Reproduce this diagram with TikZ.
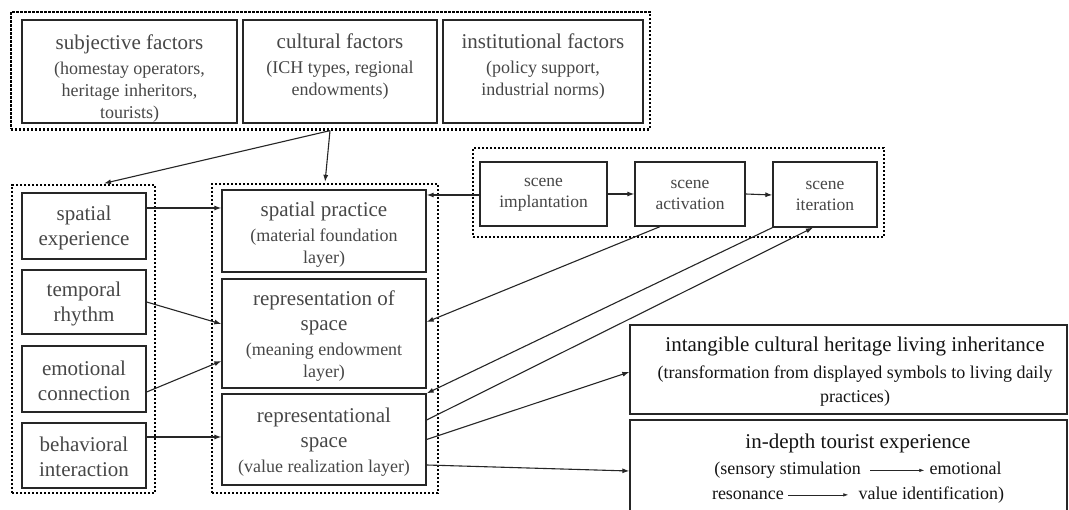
\documentclass[tikz,border=0pt]{standalone}
\usepackage{fontspec}
\setmainfont{Liberation Serif}
\usetikzlibrary{arrows.meta,calc}
\newcommand\ttl[1]{{\fontsize{21}{25}\selectfont #1}}
\newcommand\txtarrow[1]{\tikz[baseline=-4.5pt]\draw[-{Latex[length=5pt,width=3.5pt]},line width=0.6pt,draw=black!85] (0pt,0pt) -- (#1,0pt);}
\tikzset{
  box/.style={draw=black!85, line width=1.3pt, rectangle, inner sep=0pt},
  txt/.style={inner sep=0pt, align=center, text=black!72, font=\fontsize{18}{22}\selectfont},
  darktxt/.style={txt, text=black!92, font=\fontsize{18}{24.5}\selectfont},
  scenetxt/.style={txt, font=\fontsize{17.5}{21}\selectfont},
  grp/.style={draw=black, line width=2.3pt, dash pattern=on 2.1pt off 1.9pt, rectangle, inner sep=0pt},
  arr/.style={-{Latex[length=7pt,width=5pt]}, line width=1.1pt, draw=black!85}
}
\begin{document}
\begin{tikzpicture}[x=1pt,y=-1pt]
\useasboundingbox (0,0) rectangle (1069,510);
\clip (0,0) rectangle (1069,510);
\fill[white] (0,0) rectangle (1069,510);
% group frames
\node[grp, minimum width=639pt, minimum height=117.5pt] (topgrp) at (330.5,70.75) {};
\node[grp, minimum width=143pt, minimum height=308pt] (leftgrp) at (83.5,339) {};
\node[grp, minimum width=226pt, minimum height=309pt] (midgrp) at (325,338.5) {};
\node[grp, minimum width=411pt, minimum height=89pt] (scenegrp) at (678.5,192.5) {};
% top factors
\node[box, minimum width=215pt, minimum height=103pt] (subj) at (129.5,71.5) {};
\node[txt] (subjT) at (129.5,78.5) {\ttl{subjective factors}\\[3pt](homestay operators,\\heritage inheritors,\\tourists)};
\node[box, minimum width=194pt, minimum height=103pt] (cult) at (340,71.5) {};
\node[txt] (cultT) at (340,78.5) {\ttl{cultural factors}\\[3pt](ICH types, regional\\endowments)\\\strut};
\node[box, minimum width=200pt, minimum height=103pt] (inst) at (543,71.5) {};
\node[txt] (instT) at (543,78.5) {\ttl{institutional factors}\\[3pt](policy support,\\industrial norms)\\\strut};
% left column
\node[box, minimum width=124pt, minimum height=66pt] (spexp) at (84,226) {};
\node[txt] (spexpT) at (84,227.5) {\ttl{spatial}\\[3pt]\ttl{experience}};
\node[box, minimum width=124pt, minimum height=64pt] (temp) at (84,302) {};
\node[txt] (tempT) at (84,304) {\ttl{temporal}\\[3pt]\ttl{rhythm}};
\node[box, minimum width=124pt, minimum height=66pt] (emo) at (84,379) {};
\node[txt] (emoT) at (84,380.5) {\ttl{emotional}\\[3pt]\ttl{connection}};
\node[box, minimum width=124pt, minimum height=65pt] (beh) at (84,455.5) {};
\node[txt] (behT) at (84,457) {\ttl{behavioral}\\[3pt]\ttl{interaction}};
% middle column
\node[box, minimum width=204pt, minimum height=82pt] (sppr) at (324,231) {};
\node[txt] (spprT) at (324,235) {\ttl{spatial practice}\\[3pt](material foundation\\layer)};
\node[box, minimum width=204pt, minimum height=109pt] (repsp) at (324,333.5) {};
\node[txt] (repspT) at (324,336) {\ttl{representation of}\\[3pt]\ttl{space}\\[3pt](meaning endowment\\layer)};
\node[box, minimum width=204pt, minimum height=91pt] (rsp) at (324,439.5) {};
\node[txt] (rspT) at (324,442.5) {\ttl{representational}\\[3pt]\ttl{space}\\[3pt](value realization layer)};
% scene chain
\node[box, minimum width=127pt, minimum height=64pt] (impl) at (543.5,194) {};
\node[scenetxt] (implT) at (543.5,195) {scene\\implantation};
\node[box, minimum width=110pt, minimum height=64pt] (act) at (690,194) {};
\node[scenetxt] (actT) at (690,195) {scene\\activation};
\node[box, minimum width=104pt, minimum height=65pt] (iter) at (825,194.5) {};
\node[scenetxt] (iterT) at (825,195.5) {scene\\iteration};
% outcomes
\node[box, minimum width=437pt, minimum height=89pt] (ich) at (848.5,369.5) {};
\node[darktxt] (ichT) at (855,372) {\ttl{intangible cultural heritage living inheritance}\\[2pt](transformation from displayed symbols to living daily\\practices)};
\node[box, minimum width=437pt, minimum height=96pt] (tour) at (848.5,468) {};
\node[darktxt] (tourT) at (858,468.5) {\ttl{in-depth tourist experience}\\[2pt](sensory stimulation\hspace{9pt}\txtarrow{54pt}\hspace{5pt}emotional\\resonance\hspace{4pt}\txtarrow{60pt}\hspace{10pt}value identification)};
% connectors
\draw[arr, shorten >=2pt] ([xshift=-0.5pt]topgrp.south) -- ([xshift=18.5pt]leftgrp.north);
\draw[arr, shorten >=1pt] ([xshift=-0.5pt]topgrp.south) -- (midgrp.north);
\draw[arr] ([yshift=18pt]spexp.east) -- ([yshift=23pt]sppr.west);
\draw[arr] (temp.east) -- ([yshift=9.5pt]repsp.west);
\draw[arr] ([yshift=-13pt]emo.east) -- ([yshift=-27.5pt]repsp.west);
\draw[arr] ([yshift=18.5pt]beh.east) -- ([yshift=2.5pt]rsp.west);
\draw[arr] ([yshift=-1pt]impl.west) -- ([yshift=36pt]sppr.east);
\draw[arr] (impl.east) -- (act.west);
\draw[arr] (act.east) -- ([yshift=-0.5pt]iter.west);
\draw[arr] ([xshift=-30pt]act.south) -- ([yshift=11.5pt]repsp.east);
\draw[arr] (iter.south west) -- (rsp.north east);
\draw[arr] ([yshift=19.5pt]rsp.east) -- ([xshift=-12pt]iter.south);
\draw[arr] (rsp.east) -- ([yshift=-2.5pt]ich.west);
\draw[arr] ([yshift=-25.5pt]rsp.east) -- ([yshift=-3pt]tour.west);
\end{tikzpicture}
\end{document}
